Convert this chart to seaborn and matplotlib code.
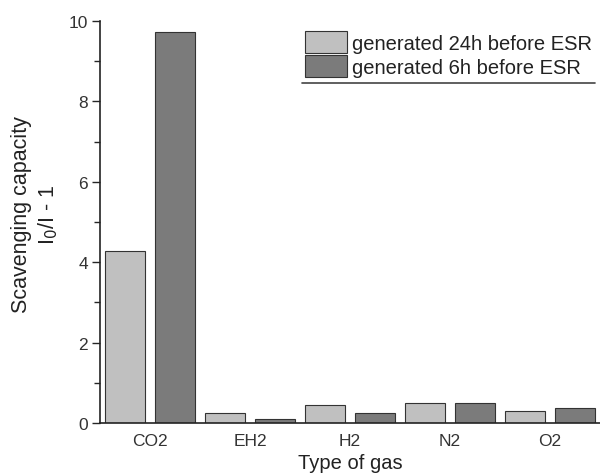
import matplotlib
matplotlib.use("Agg")
import matplotlib.pyplot as plt
import seaborn as sns
import pandas as pd
from matplotlib.ticker import MultipleLocator
from matplotlib.lines import Line2D

gases = ["CO2", "EH2", "H2", "N2", "O2"]
series_names = ["generated 24h before ESR", "generated 6h before ESR"]
vals_24h = [4.28, 0.25, 0.46, 0.49, 0.30]
vals_6h = [9.72, 0.10, 0.25, 0.49, 0.38]
colors = ["#c0c0c0", "#7b7b7b"]

df = pd.DataFrame({
    "gas": gases * 2,
    "series": [series_names[0]] * len(gases) + [series_names[1]] * len(gases),
    "value": vals_24h + vals_6h,
})

sns.set_style("ticks")
plt.rcParams["font.family"] = ["Liberation Sans", "DejaVu Sans"]

fig = plt.figure(figsize=(6, 4.77), dpi=100)
ax = fig.add_axes([0.1667, 0.1111, 0.8333, 0.8428])

sns.barplot(data=df, x="gas", y="value", hue="series", palette=colors,
            width=1.0, gap=0.2, edgecolor="#333333", linewidth=0.8,
            saturation=1, ax=ax)

ax.set_xlim(-0.5, 4.5)
ax.set_ylim(0, 10)
ax.yaxis.set_major_locator(MultipleLocator(2))
ax.yaxis.set_minor_locator(MultipleLocator(1))
ax.tick_params(axis="y", which="major", length=5.5, width=1, labelsize=12.5, pad=3)
ax.tick_params(axis="y", which="minor", length=4.5, width=1)
ax.tick_params(axis="x", length=0, labelsize=12.5, pad=7)
for lab in ax.get_xticklabels() + ax.get_yticklabels():
    lab.set_color("#333333")
sns.despine(ax=ax, top=True, right=True)
for s in ["left", "bottom"]:
    ax.spines[s].set_color("#222222")
    ax.spines[s].set_linewidth(1.2)

ax.set_xlabel("Type of gas", fontsize=14.5, labelpad=4, color="#222222")
ax.set_ylabel("Scavenging capacity\nI$_0$/I - 1", fontsize=15.5, color="#222222",
              linespacing=1.25)
ax.yaxis.set_label_coords(-0.08, 0.52)

leg = ax.legend(loc="upper left", bbox_to_anchor=(0.41, 0.975), frameon=False,
                fontsize=14.5, handlelength=2.1, handleheight=1.3,
                handletextpad=0.25, labelspacing=0.1, borderaxespad=0, borderpad=0)
for t in leg.get_texts():
    t.set_color("#222222")

ax.add_line(Line2D([0.404, 0.99], [0.846, 0.846], transform=ax.transAxes,
                   color="#444444", linewidth=1.2, clip_on=False))

fig.savefig("out.png", dpi=100)
